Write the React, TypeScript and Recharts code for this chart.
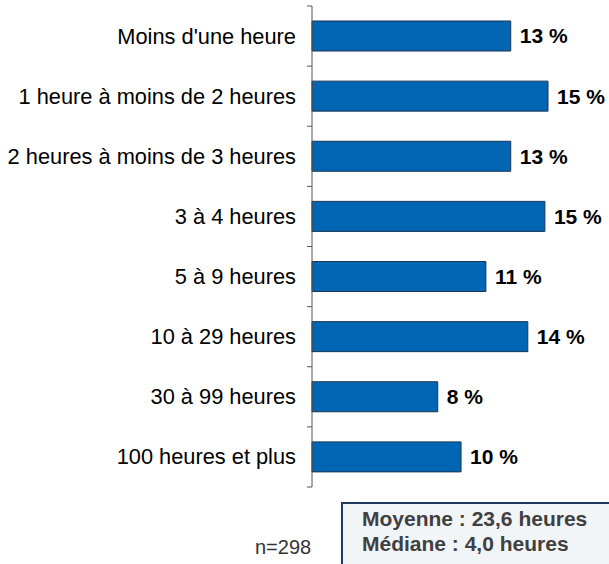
import React from "react";
import { BarChart, Bar, XAxis, YAxis, LabelList } from "recharts";

const categories = [
  "Moins d'une heure",
  "1 heure à moins de 2 heures",
  "2 heures à moins de 3 heures",
  "3 à 4 heures",
  "5 à 9 heures",
  "10 à 29 heures",
  "30 à 99 heures",
  "100 heures et plus",
];
const values = [12.8, 15.2, 12.8, 15.0, 11.2, 13.9, 8.1, 9.6];
const valueLabels = ["13 %", "15 %", "13 %", "15 %", "11 %", "14 %", "8 %", "10 %"];
const sampleNote = "n=298";
const statsLines = ["Moyenne : 23,6 heures", "Médiane : 4,0 heures"];

const data = categories.map((c, i) => ({ cat: c, pct: values[i], txt: valueLabels[i] }));

const FONT = "'Liberation Sans', Arial, sans-serif";
const TOP = 6;
const BOTTOM_Y = 487;
const BAND = (BOTTOM_Y - TOP) / categories.length;

const CategoryTick = (props: any) => {
  const { x, y, payload, index } = props;
  const axisX = x;
  return (
    <g>
      <text
        x={axisX - 16}
        y={y}
        textAnchor="end"
        dominantBaseline="central"
        fontFamily={FONT}
        fontSize={21.8}
        fill="#000"
      >
        {payload.value}
      </text>
      <line x1={axisX - 5} x2={axisX} y1={y - BAND / 2} y2={y - BAND / 2} stroke="#555" strokeWidth={1} />
      {index === categories.length - 1 && (
        <line x1={axisX - 5} x2={axisX} y1={y + BAND / 2} y2={y + BAND / 2} stroke="#555" strokeWidth={1} />
      )}
    </g>
  );
};

export default function App() {
  return (
    <div style={{ position: "absolute", left: 0, top: 0, width: 609, height: 564, overflow: "hidden", background: "#fff" }}>
      <BarChart
        width={609}
        height={564}
        layout="vertical"
        data={data}
        margin={{ top: TOP, right: 2, bottom: 564 - BOTTOM_Y, left: 0 }}
        barSize={30}
      >
        <XAxis type="number" dataKey="pct" domain={[0, 19]} hide />
        <YAxis
          type="category"
          dataKey="cat"
          width={312}
          axisLine={{ stroke: "#555", strokeWidth: 1 }}
          tickLine={false}
          tickSize={0}
          tickMargin={0}
          tick={<CategoryTick />}
          interval={0}
        />
        <Bar dataKey="pct" fill="#0066b3" stroke="#1c3550" strokeWidth={1} isAnimationActive={false}>
          <LabelList
            dataKey="txt"
            position="right"
            offset={9}
            fill="#000"
            fontFamily={FONT}
            fontSize={21}
            fontWeight="bold"
          />
        </Bar>
      </BarChart>
      <div
        style={{
          position: "absolute",
          left: 255,
          top: 535,
          fontFamily: FONT,
          fontSize: 20,
          color: "#333",
          lineHeight: "24px",
        }}
      >
        {sampleNote}
      </div>
      <div
        style={{
          position: "absolute",
          left: 341,
          top: 502,
          width: 290,
          height: 80,
          border: "2px solid #1f3a5f",
          background: "#f2f5f8",
          boxSizing: "border-box",
          paddingLeft: 19,
          paddingTop: 2,
          fontFamily: FONT,
          fontSize: 21,
          fontWeight: "bold",
          color: "#404040",
          lineHeight: "25px",
        }}
      >
        {statsLines.map((t) => (
          <div key={t}>{t}</div>
        ))}
      </div>
    </div>
  );
}
